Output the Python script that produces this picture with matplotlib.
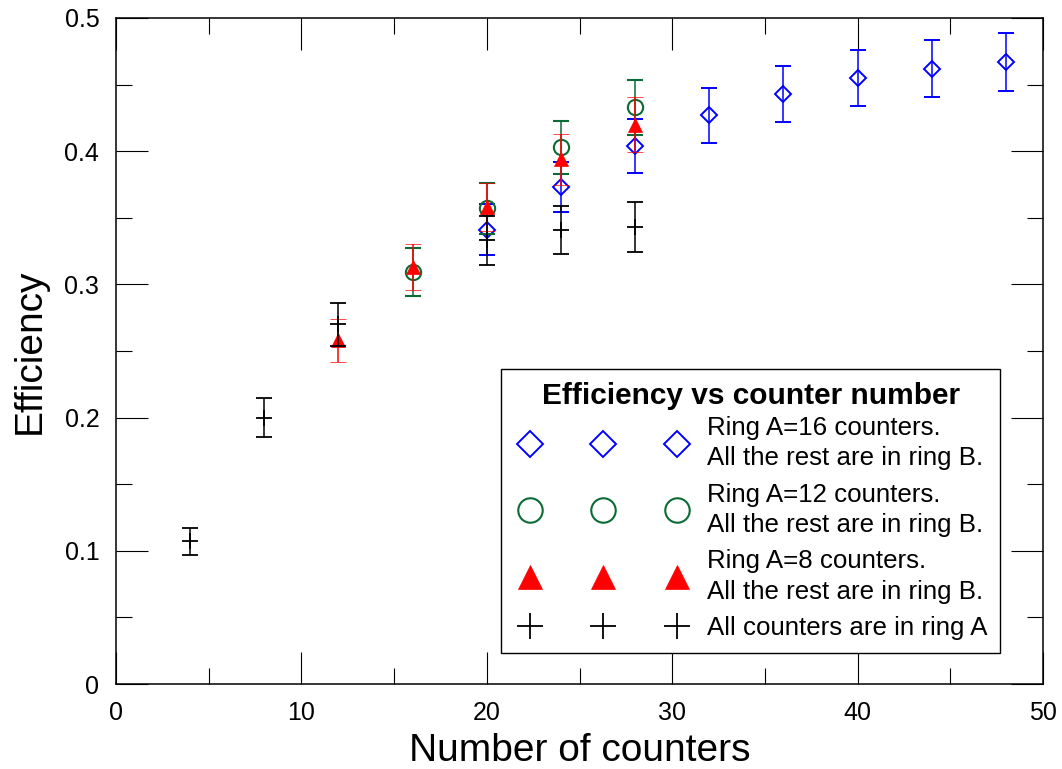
import matplotlib
matplotlib.use("Agg")
import matplotlib.pyplot as plt
from matplotlib.lines import Line2D
from matplotlib.legend_handler import HandlerLine2D
from matplotlib.ticker import MultipleLocator, FuncFormatter

plt.rcParams['font.family'] = ['Liberation Sans', 'DejaVu Sans']

# Ring A = 16 counters, rest in ring B
x_ring16 = [20, 24, 28, 32, 36, 40, 44, 48]
y_ring16 = [0.341, 0.373, 0.404, 0.427, 0.443, 0.455, 0.462, 0.467]
e_ring16 = [0.019, 0.019, 0.020, 0.0205, 0.021, 0.021, 0.0215, 0.0218]

# Ring A = 12 counters, rest in ring B
x_ring12 = [16, 20, 24, 28]
y_ring12 = [0.309, 0.357, 0.403, 0.433]
e_ring12 = [0.018, 0.019, 0.020, 0.0205]

# Ring A = 8 counters, rest in ring B
x_ring8 = [12, 16, 20, 24, 28]
y_ring8 = [0.258, 0.313, 0.358, 0.394, 0.420]
e_ring8 = [0.016, 0.0175, 0.018, 0.019, 0.0205]

# All counters in ring A
x_ringA = [4, 8, 12, 20, 24, 28]
y_ringA = [0.107, 0.200, 0.270, 0.333, 0.341, 0.343]
e_ringA = [0.010, 0.0144, 0.016, 0.0185, 0.018, 0.0186]

labels = [
    "Ring A=16 counters.\nAll the rest are in ring B.",
    "Ring A=12 counters.\nAll the rest are in ring B.",
    "Ring A=8 counters.\nAll the rest are in ring B.",
    "All counters are in ring A",
]

BLUE = "#0000ff"
GREEN = "#0b6b35"
RED = "#ff0000"
BLACK = "#000000"

fig = plt.figure(figsize=(10.62, 7.69), dpi=100)
ax = fig.add_axes([116 / 1062, 85 / 769, 927 / 1062, 666 / 769])

eb_kw = dict(linestyle="none", elinewidth=1.1, capsize=5.8, capthick=1.1)

series = [
    (x_ring16, y_ring16, e_ring16, BLUE, dict(marker="D", ms=8.4, mfc="none", mec=BLUE, mew=1.4)),
    (x_ring12, y_ring12, e_ring12, GREEN, dict(marker="o", ms=11.0, mfc="none", mec=GREEN, mew=1.5)),
    (x_ring8, y_ring8, e_ring8, RED, dict(marker="^", ms=10.6, mfc=RED, mec=RED, mew=0.5)),
    (x_ringA, y_ringA, e_ringA, BLACK, dict(marker="+", ms=12.0, mec=BLACK, mew=1.3)),
]

handles = []
for i, (xs, ys, es, col, mk) in enumerate(series):
    ax.errorbar(xs, ys, yerr=es, color=col, ecolor=col, zorder=2 + i, **mk, **eb_kw)
    handles.append(Line2D([], [], linestyle="none", color=col, **mk))

ax.set_xlim(0, 50)
ax.set_ylim(0, 0.5)
ax.xaxis.set_major_locator(MultipleLocator(10))
ax.xaxis.set_minor_locator(MultipleLocator(5))
ax.yaxis.set_major_locator(MultipleLocator(0.1))
ax.yaxis.set_minor_locator(MultipleLocator(0.05))
ax.yaxis.set_major_formatter(FuncFormatter(lambda v, p: "0" if abs(v) < 1e-9 else f"{v:.1f}"))

ax.tick_params(which="both", direction="in", top=True, right=True, width=0.8, colors="black")
ax.tick_params(which="major", length=23, labelsize=18)
ax.tick_params(axis="x", which="major", pad=12)
ax.tick_params(axis="y", which="major", pad=12)
ax.tick_params(which="minor", length=11.5)
for sp in ax.spines.values():
    sp.set_linewidth(1.1)

ax.set_xlabel("Number of counters", fontsize=28, labelpad=6)
ax.set_ylabel("Efficiency", fontsize=28, labelpad=12)

leg = ax.legend(
    handles, labels,
    loc="lower right", bbox_to_anchor=((1000 - 116) / 927, (684 - 653) / 666),
    borderaxespad=0, fontsize=18.6, numpoints=3, markerscale=1.6,
    handlelength=6.91, handletextpad=0.54, borderpad=0.5, labelspacing=0.485,
    frameon=True, fancybox=False, edgecolor="black", framealpha=1,
    title="Efficiency vs counter number",
    title_fontproperties={"weight": "bold", "size": 21.5},
    handler_map={Line2D: HandlerLine2D(marker_pad=0.624)},
)
leg.get_frame().set_linewidth(1.0)
for t in leg.get_texts():
    t.set_linespacing(1.32)
# tighter gap between the legend title and its first entry
leg._legend_box.sep = 4.7

fig.savefig("out.png", dpi=100)
